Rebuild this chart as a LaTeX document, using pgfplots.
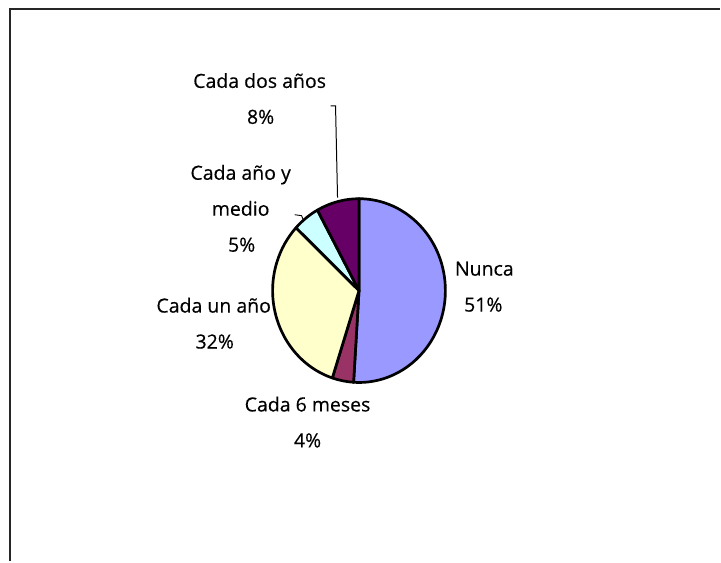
\documentclass[border=0pt]{standalone}
\usepackage{pgfplots}
\usepackage{pgfplotstable}
\pgfplotsset{compat=1.18}
\usepackage{fontspec}
\setmainfont{Open Sans}[FakeBold=0.4,AutoFakeBold=0.4]

% Frecuencia de revisión
\pgfplotstableread[col sep=comma]{
idx,pct
0,51
1,4
2,32
3,5
4,8
}\pietable
% cumulative share, used for the sector angles
\pgfplotstablecreatecol[expr accum={\pgfmathaccuma + \thisrow{pct}}{0}]{cum}\pietable

\definecolor{slice0}{HTML}{9999FF}
\definecolor{slice1}{HTML}{993366}
\definecolor{slice2}{HTML}{FFFFCC}
\definecolor{slice3}{HTML}{CCFFFF}
\definecolor{slice4}{HTML}{660066}

% pie centre and radii (axis units = pt)
\def\cx{359.5}
\def\cy{271}
\def\rx{86.5}
\def\ry{92}

\begin{document}
\begin{tikzpicture}
\begin{axis}[
  at={(0,0)}, anchor=south west,
  scale only axis, width=721pt, height=562pt,
  xmin=0, xmax=721, ymin=0, ymax=562,
  hide axis, clip=false,
]
\path (axis cs:0,0) rectangle (axis cs:721,562);

% sectors, clockwise from twelve o'clock
\pgfplotsinvokeforeach{0,...,4}{
  \pgfplotstablegetelem{#1}{pct}\of\pietable
  \let\pcur=\pgfplotsretval
  \pgfplotstablegetelem{#1}{cum}\of\pietable
  \pgfmathsetmacro\aend{90-3.6*\pgfplotsretval}
  \pgfmathsetmacro\astart{\aend+3.6*\pcur}
  \edef\slicecmd{\noexpand\filldraw[fill=slice#1, draw=black, line width=2.7pt, line join=round]
    (axis cs:\cx,\cy) -- ++({\rx pt*cos(\astart)},{\ry pt*sin(\astart)})
    arc[start angle=\astart, end angle=\aend, x radius=\rx pt, y radius=\ry pt] -- cycle;}
  \slicecmd
}

% leader lines
\draw[line width=1pt] (axis cs:331,456) -- (axis cs:336,456) -- (axis cs:338,364);
\draw[line width=0.9pt] (axis cs:295,347) -- (axis cs:302,346) -- (axis cs:304,341);

% labels
\pgfplotstablegetelem{0}{pct}\of\pietable\edef\pA{\pgfplotsretval}
\pgfplotstablegetelem{1}{pct}\of\pietable\edef\pB{\pgfplotsretval}
\pgfplotstablegetelem{2}{pct}\of\pietable\edef\pC{\pgfplotsretval}
\pgfplotstablegetelem{3}{pct}\of\pietable\edef\pD{\pgfplotsretval}
\pgfplotstablegetelem{4}{pct}\of\pietable\edef\pE{\pgfplotsretval}
\tikzset{lab/.style={anchor=base, inner sep=0pt, font=\fontsize{19.5}{36}\selectfont\bfseries}}
\node[lab] at (axis cs:485,286) {Nunca};
\node[lab] at (axis cs:484,250) {\pA\%};
\node[lab] at (axis cs:308,150) {Cada 6 meses};
\node[lab] at (axis cs:308,114) {\pB\%};
\node[lab] at (axis cs:214,249) {Cada un año};
\node[lab] at (axis cs:215,213) {\pC\%};
\node[lab] at (axis cs:241,382) {Cada año y};
\node[lab] at (axis cs:241,346) {medio};
\node[lab] at (axis cs:242,310) {\pD\%};
\node[lab] at (axis cs:260,474) {Cada dos años};
\node[lab] at (axis cs:261,438) {\pE\%};

% chart frame
\draw[line width=2pt, black!85] (axis cs:10.5,0) -- (axis cs:10.5,552.7) -- (axis cs:721,552.7);
\end{axis}
\end{tikzpicture}
\end{document}
